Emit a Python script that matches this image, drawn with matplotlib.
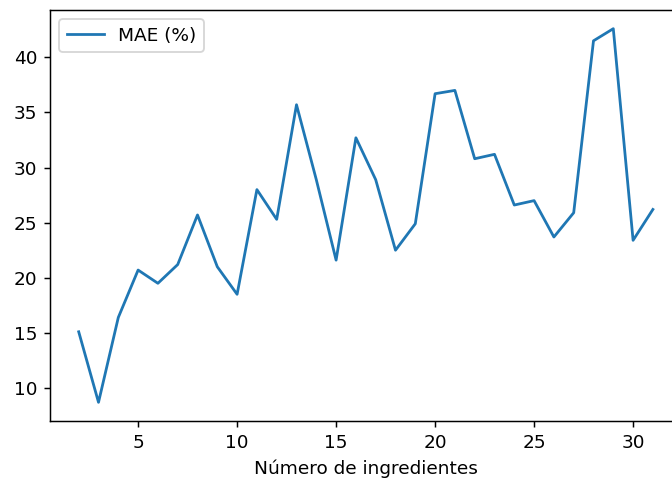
import matplotlib
matplotlib.use("Agg")
import matplotlib.pyplot as plt

# Mean absolute error by recipe size
n_ingredientes = list(range(2, 32))
mae_pct = [15.1, 8.7, 16.4, 20.7, 19.5, 21.2, 25.7, 21.0, 18.5, 28.0,
           25.3, 35.7, 28.9, 21.6, 32.7, 28.9, 22.5, 24.9, 36.7, 37.0,
           30.8, 31.2, 26.6, 27.0, 23.7, 25.9, 41.5, 42.6, 23.4, 26.2]

DPI = 133
fig = plt.figure(figsize=(672 / DPI, 480 / DPI), dpi=DPI)
ax = fig.add_axes([50 / 672, 59 / 480, 631.6 / 672, 411 / 480])
ax.plot(n_ingredientes, mae_pct, color="#1f77b4", linewidth=1.5, label="MAE (%)")
ax.set_xlabel("Número de ingredientes")
ax.legend(loc="upper left")

fig.savefig("out.png", dpi=DPI)
